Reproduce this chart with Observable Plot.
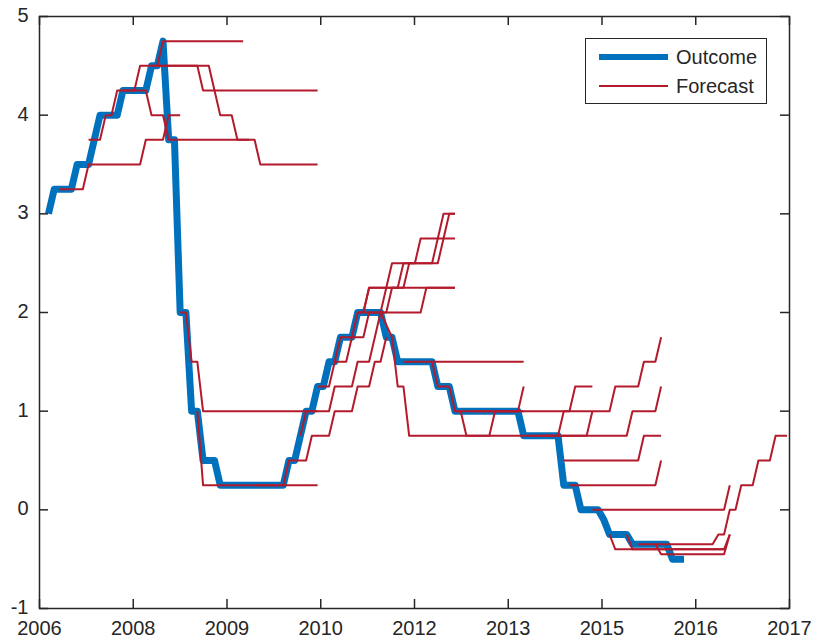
<!DOCTYPE html>
<html><head><meta charset="utf-8">
<script src="https://cdn.jsdelivr.net/npm/d3@7"></script>
<script src="https://cdn.jsdelivr.net/npm/@observablehq/plot@0.6"></script>
<style>body{margin:0;background:#fff;} #chart{width:814px;height:643px;}</style>
</head><body><div id="chart"></div>
<script>
// x values are months since January 2007
const xDomain = [-1.57, 129.43];
const xTickLabels = ["2006","2008","2009","2010","2012","2013","2015","2016","2017"];
const yTicks = [-1, 0, 1, 2, 3, 4, 5];

// Outcome (policy rate), vertices [month, value]
const outcome = [[0,3.0],[1,3.25],[4,3.25],[5,3.5],[7,3.5],[8,3.75],[9,4.0],[12,4.0],[13,4.25],[17,4.25],[18,4.5],[19,4.5],[20,4.75],[21,3.75],[22,3.75],[23,2.0],[24,2.0],[25,1.0],[26,1.0],[27,0.5],[29,0.5],[30,0.25],[41,0.25],[42,0.5],[43,0.5],[44,0.75],[45,1.0],[46,1.0],[47,1.25],[48,1.25],[49,1.5],[50,1.5],[51,1.75],[53,1.75],[54,2.0],[58,2.0],[59,1.75],[60,1.75],[61,1.5],[67,1.5],[68,1.25],[70,1.25],[71,1.0],[82,1.0],[83,0.75],[89,0.75],[90,0.25],[92,0.25],[93,0],[96,0],[97,-0.1],[98,-0.25],[101,-0.25],[102,-0.35],[108,-0.35],[109,-0.5],[111,-0.5]];

// Forecast paths, vertices [month, value]
const forecasts2007 = [
  [[2,3.25],[6,3.25],[7,3.5],[16,3.5],[17,3.75],[20,3.75],[21,4],[23,4]],
  [[7,3.75],[9,3.75],[10,4],[11,4],[12,4.25],[15,4.25],[16,4.5],[26,4.5],[27,4.25],[47,4.25]],
  [[13,4.25],[17,4.25],[18,4],[20,4],[21,3.75],[35,3.75]],
  [[18,4.5],[28,4.5],[30,4],[32,4],[33,3.75],[36,3.75],[37,3.5],[47,3.5]],
  [[19,4.5],[20,4.75],[34,4.75]],
  [[23,2],[24,2],[25,1.5],[26,1.5],[27,1],[47,1]],
  [[26,1],[27,0.25],[47,0.25]]
];
const forecasts2010 = [
  [[36,0.25],[41,0.25],[42,0.5],[45,0.5],[46,0.75],[49,0.75],[50,1],[53,1],[54,1.25],[56,1.25],[57,1.5],[58,1.5],[59,1.75]],
  [[44,0.75],[45,1],[49,1],[50,1.25],[53,1.25],[54,1.5],[56,1.5],[57,1.75],[58,2],[59,2],[60,2.25],[62,2.25],[63,2.5],[68,2.5],[69,2.75],[70,3],[71,3]],
  [[47,1.25],[49,1.25],[50,1.5],[52,1.5],[53,1.75],[55,1.75],[56,2],[58,2],[59,2.25],[61,2.25],[62,2.5],[64,2.5],[65,2.75],[71,2.75]],
  [[50,1.5],[51,1.75],[53,1.75],[54,2],[55,2],[56,2.25],[59,2.25],[60,2.5],[67,2.5],[68,2.75],[69,3],[71,3]],
  [[54,2],[65,2],[66,2.25],[71,2.25]],
  [[55,2],[56,2.25],[71,2.25]]
];
const forecasts2012 = [
  [[58,2],[60,1.75],[61,1.25],[62,1.25],[63,0.75],[83,0.75]],
  [[62,1.5],[83,1.5]],
  [[67,1.5],[68,1.25],[70,1.25],[71,1],[83,1]],
  [[71,1],[72,1],[73,0.75],[77,0.75],[78,1],[82,1],[83,1.25]],
  [[74,1],[91,1],[92,1.25],[95,1.25]],
  [[83,0.75],[94,0.75],[95,1]]
];
const forecasts2014 = [
  [[84,0.75],[89,0.75],[90,1],[98,1],[99,1.25],[103,1.25],[104,1.5],[106,1.5],[107,1.75]],
  [[86,0.75],[101,0.75],[102,1],[106,1],[107,1.25]],
  [[90,0.5],[103,0.5],[104,0.75],[107,0.75]],
  [[91,0.25],[106,0.25],[107,0.5]],
  [[95,0],[118,0],[119,0.25]],
  [[98,-0.25],[99,-0.4],[118,-0.4],[119,-0.25]],
  [[101,-0.25],[102,-0.4],[118,-0.4]],
  [[103,-0.35],[116,-0.35],[117,-0.25],[118,-0.25],[119,0],[120,0],[121,0.25],[123,0.25],[124,0.5],[126,0.5],[127,0.75],[129,0.75]],
  [[106,-0.35],[107,-0.45],[118,-0.45],[119,-0.25]]
];

const blue = "#0072BD", red = "#B31B2D", ink = "#262626";
const W = 814, H = 643, mL = 39, mR = 25, mT = 16, mB = 35;
const plotW = W - mL - mR, plotH = H - mT - mB, tickLen = 9;

const outcomeData = outcome.map(([m, v]) => ({m, v}));
const forecastData = [...forecasts2007, ...forecasts2010, ...forecasts2012, ...forecasts2014]
  .flatMap((path, id) => path.map(([m, v]) => ({id, m, v})));
const xTicks = xTickLabels.map((_, k) => xDomain[0] + k * (xDomain[1] - xDomain[0]) / (xTickLabels.length - 1));

const chart = Plot.plot({
  width: W, height: H,
  marginLeft: mL, marginRight: mR, marginTop: mT, marginBottom: mB,
  x: {domain: xDomain, axis: null},
  y: {domain: [-1, 5], axis: null},
  style: {fontFamily: "'Liberation Sans', Arial, sans-serif", fontSize: "20px", background: "#fff", overflow: "visible"},
  marks: [
    Plot.line(outcomeData, {x: "m", y: "v", stroke: blue, strokeWidth: 7, strokeLinejoin: "round", strokeLinecap: "butt"}),
    Plot.line(forecastData, {x: "m", y: "v", z: "id", stroke: red, strokeWidth: 2, strokeLinecap: "butt"}),
    Plot.ruleX(xTicks, {x: d => d, insetTop: plotH - tickLen, stroke: ink, strokeWidth: 1.5}),
    Plot.ruleX(xTicks, {x: d => d, insetBottom: plotH - tickLen, stroke: ink, strokeWidth: 1.5}),
    Plot.ruleY(yTicks, {y: d => d, insetRight: plotW - tickLen, stroke: ink, strokeWidth: 1.5}),
    Plot.ruleY(yTicks, {y: d => d, insetLeft: plotW - tickLen, stroke: ink, strokeWidth: 1.5}),
    Plot.frame({stroke: ink, strokeWidth: 1.5}),
    Plot.text(xTicks, {x: d => d, frameAnchor: "bottom", dy: 26, text: (d, i) => xTickLabels[i], fill: ink}),
    Plot.text(yTicks, {y: d => d, frameAnchor: "left", dx: -11, dy: -1, textAnchor: "end", text: d => String(d), fill: ink})
  ]
});

// Legend box (inside the axes, top right)
const svg = d3.select(chart);
const lg = svg.append("g").attr("font-family", "'Liberation Sans', Arial, sans-serif").attr("font-size", 20).attr("fill", ink).attr("text-anchor", "start");
lg.append("rect").attr("x", 585.5).attr("y", 38.5).attr("width", 181).attr("height", 65).attr("fill", "#fff").attr("stroke", ink).attr("stroke-width", 1);
const entries = [{label: "Outcome", color: blue, w: 6, y: 57}, {label: "Forecast", color: red, w: 2, y: 86}];
for (const e of entries) {
  lg.append("line").attr("x1", 599).attr("x2", 668).attr("y1", e.y).attr("y2", e.y).attr("stroke", e.color).attr("stroke-width", e.w);
  lg.append("text").attr("x", 676).attr("y", e.y).attr("dy", "0.35em").attr("text-anchor", "start").text(e.label);
}
document.getElementById("chart").appendChild(chart);
</script>
</body></html>
